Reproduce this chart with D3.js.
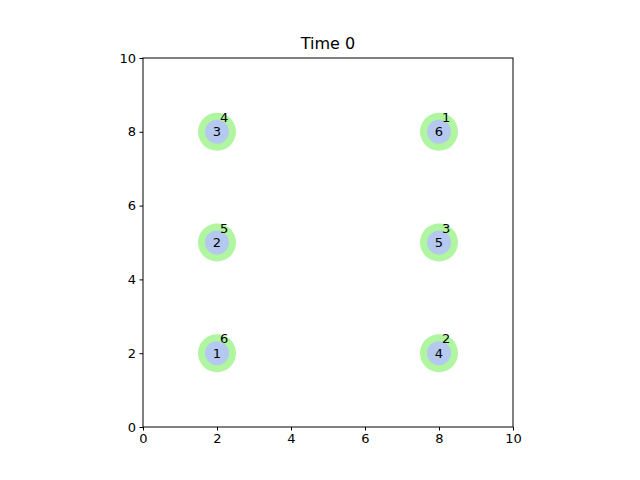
<!DOCTYPE html><html><head><script src="https://d3js.org/d3.v7.min.js"></script>
<style>body{margin:0;background:#fff}</style></head><body><svg width="640" height="480"></svg>
<script>
const xs=[2,2,2,8,8,8];
const ys=[2,5,8,2,5,8];
const innerLabels=["1","2","3","4","5","6"];
const outerLabels=["6","5","4","2","3","1"];
const ticks=[0,2,4,6,8,10];
const svg=d3.select("svg");
const x=d3.scaleLinear().domain([0,10]).range([143,513]);
const y=d3.scaleLinear().domain([0,10]).range([427,58]);
const font="DejaVu Sans, sans-serif";
svg.append("g").attr("transform","translate(0,427)").call(d3.axisBottom(x).tickValues(ticks).tickSize(3.5).tickPadding(3.5));
svg.append("g").attr("transform","translate(143,0)").call(d3.axisLeft(y).tickValues(ticks).tickSize(3.5).tickPadding(3.5));
svg.selectAll(".domain").remove();
svg.selectAll("g text").attr("font-size",13).attr("font-family",font).attr("fill","#000");
svg.append("rect").attr("x",143).attr("y",58).attr("width",370).attr("height",369).attr("fill","none").attr("stroke","#000").attr("stroke-width",1);
const d=xs.map((v,i)=>({x:v,y:ys[i],a:innerLabels[i],b:outerLabels[i]}));
svg.selectAll(".o").data(d).enter().append("circle").attr("cx",p=>x(p.x)).attr("cy",p=>y(p.y)).attr("r",19).attr("fill","#b0f5a0");
svg.selectAll(".i").data(d).enter().append("circle").attr("cx",p=>x(p.x)).attr("cy",p=>y(p.y)).attr("r",12).attr("fill","#b4c8f0");
svg.selectAll(".ti").data(d).enter().append("text").attr("x",p=>x(p.x)).attr("y",p=>y(p.y)+4.5).attr("text-anchor","middle").attr("font-size",13).attr("font-family",font).text(p=>p.a);
svg.selectAll(".to").data(d).enter().append("text").attr("x",p=>x(p.x)+3).attr("y",p=>y(p.y)-10).attr("font-size",13).attr("font-family",font).text(p=>p.b);
svg.append("text").attr("x",328).attr("y",49).attr("text-anchor","middle").attr("font-size",16).attr("font-family",font).text("Time 0");
</script></body></html>
